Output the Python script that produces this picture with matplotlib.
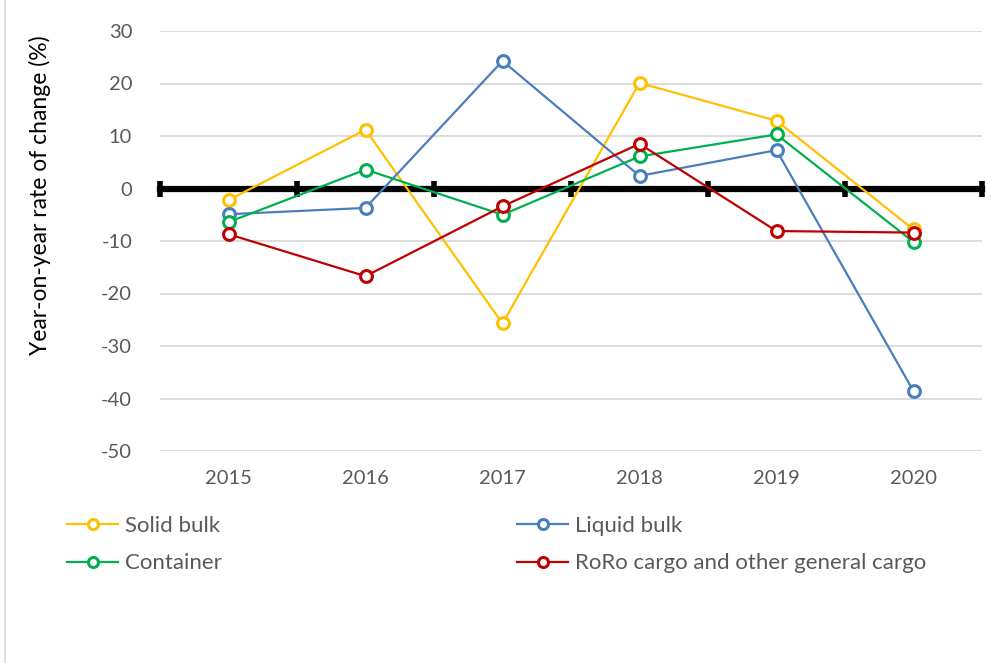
import matplotlib
matplotlib.use("Agg")
import matplotlib.pyplot as plt
from matplotlib.lines import Line2D

years = ["2015", "2016", "2017", "2018", "2019", "2020"]
solid_bulk = [-2.2, 11.2, -25.7, 20.1, 12.9, -7.8]
liquid_bulk = [-4.9, -3.7, 24.3, 2.4, 7.3, -38.6]
container = [-6.4, 3.6, -5.0, 6.1, 10.3, -10.2]
roro_general = [-8.7, -16.7, -3.4, 8.5, -8.1, -8.4]
y_ticks = [30, 20, 10, 0, -10, -20, -30, -40, -50]

series = [
    ("Solid bulk", solid_bulk, "#FFC000"),
    ("Liquid bulk", liquid_bulk, "#4A7EBB"),
    ("Container", container, "#00B050"),
    ("RoRo cargo and other general cargo", roro_general, "#C00000"),
]

plt.rcParams["font.family"] = ["Lato", "DejaVu Sans"]
plt.rcParams["axes.unicode_minus"] = False
W, H = 1001, 663
fig = plt.figure(figsize=(W / 100, H / 100), dpi=100)

left, right, top, bottom = 160, 982, 31, 451
ax = fig.add_axes([left / W, (H - bottom) / H, (right - left) / W, (bottom - top) / H])

x = list(range(len(years)))
handles = {}
for name, vals, col in series:
    (h,) = ax.plot(x, vals, color=col, lw=1.6, marker="o", ms=8.5,
                   mfc="white", mec=col, mew=2.2, zorder=3, label=name)
    handles[name] = h

ax.set_xlim(-0.5, len(years) - 0.5)
ax.set_ylim(-50, 30)
ax.set_yticks(y_ticks)
ax.tick_params(axis="y", length=0, pad=20, labelsize=14.5, labelcolor="#595959")
ax.grid(axis="y", color="#D9D9D9", lw=1.3)
ax.set_axisbelow(True)
for s in ["left", "right", "top"]:
    ax.spines[s].set_visible(False)

# Zero axis: thick black spine with category-boundary tick marks
ax.spines["bottom"].set_position(("data", 0))
ax.spines["bottom"].set_linewidth(4.5)
ax.spines["bottom"].set_color("black")
ax.spines["bottom"].set_zorder(2)
ax.set_xticks([i - 0.5 for i in range(len(years) + 1)])
ax.tick_params(axis="x", direction="inout", length=11, width=4, color="black",
               labelbottom=False)

# Category labels along the bottom of the plot area
sec = ax.secondary_xaxis(0.0)
sec.set_xticks(x)
sec.set_xticklabels(years)
sec.tick_params(length=0, pad=14, labelsize=14.5, labelcolor="#595959")
sec.spines["bottom"].set_visible(False)

fig.text(40 / W, 1 - 195 / H, "Year-on-year rate of change (%)", rotation=90,
         ha="center", va="center", fontsize=16.5, color="black")

order = ["Solid bulk", "Container", "Liquid bulk", "RoRo cargo and other general cargo"]
fig.legend([handles[n] for n in order], order, ncol=2, frameon=False,
           loc="upper left", bbox_to_anchor=(67 / W, 1 - 516 / H),
           fontsize=16, labelcolor="#595959", handlelength=2.3,
           handletextpad=0.3, columnspacing=13.3, labelspacing=0.78,
           markerscale=0.85, borderaxespad=0, borderpad=0)

fig.add_artist(Line2D([5 / W, 5 / W], [0, 1], transform=fig.transFigure,
                      color="#D9D9D9", lw=1.2))

fig.savefig("out.png", dpi=100)
